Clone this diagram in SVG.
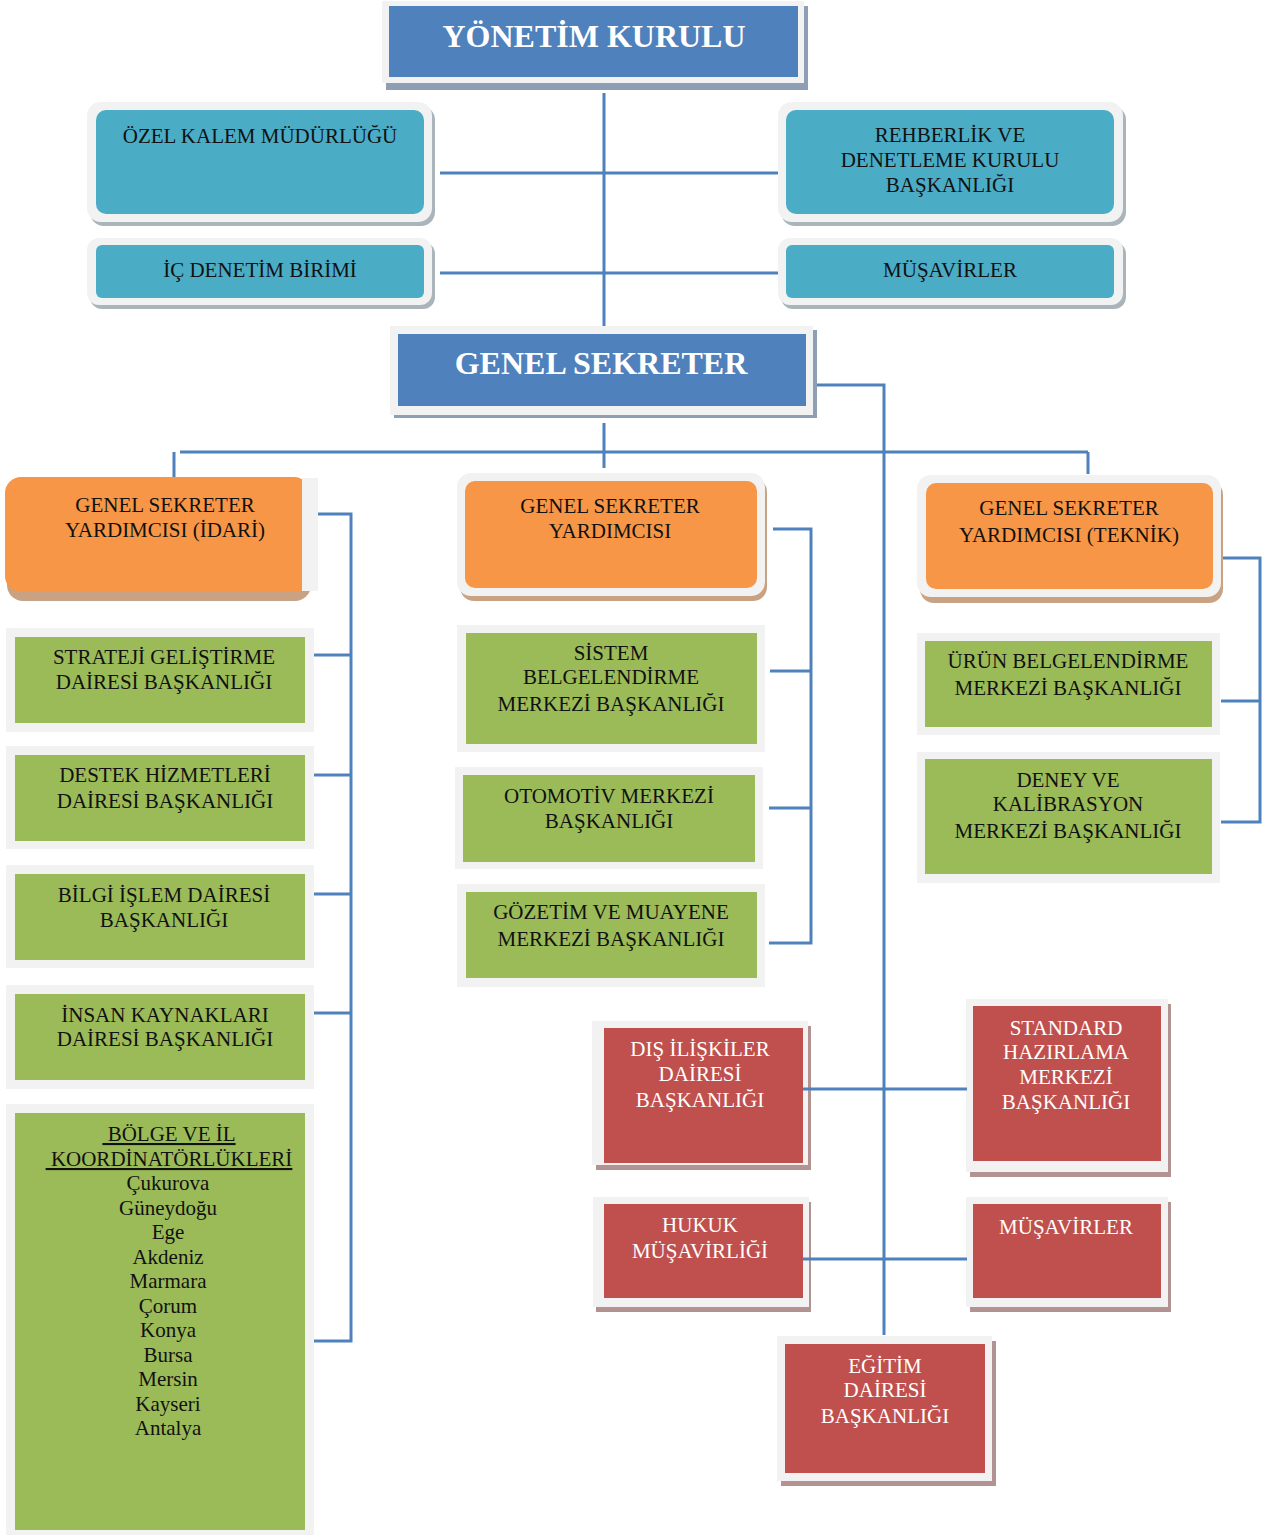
<svg xmlns="http://www.w3.org/2000/svg" width="1267" height="1535" viewBox="0 0 1267 1535">
<style>
.fr{fill:#F2F2F2}
.bl{fill:#4F81BD}
.te{fill:#4BACC6}
.or{fill:#F79646}
.gr{fill:#9BBB59}
.rd{fill:#C0504D}
.sb{fill:#8E9EB4}
.st{fill:#A9B4BB}
.so{fill:#C9A283}
.sr{fill:#B39392}
.c{stroke:#4F81BD;stroke-width:3;fill:none}
text{font-family:"Liberation Serif","Times New Roman",serif;font-size:21px;text-anchor:middle;fill:#111}
.w{fill:#fff}
.h{font-weight:bold;font-size:32px;fill:#fff}
</style>
<rect width="1267" height="1535" fill="#fff"/>
<g id="yonetim-kurulu">
<rect class="sb" x="386" y="6" width="422" height="84"/>
<rect class="fr" x="382" y="1" width="422" height="82"/>
<rect class="bl" x="389" y="6" width="409" height="71"/>
<text class="h" x="594" y="47">YÖNETİM KURULU</text>
</g>
<g id="ozel-kalem">
<rect class="st" x="90" y="106" width="345" height="120" rx="14"/>
<rect class="fr" x="87" y="102" width="345" height="120" rx="14"/>
<rect class="te" x="96" y="110" width="328" height="104" rx="10"/>
<text x="260" y="143">ÖZEL KALEM MÜDÜRLÜĞÜ</text>
</g>
<g id="ic-denetim">
<rect class="st" x="90" y="242" width="345" height="67" rx="12"/>
<rect class="fr" x="87" y="238" width="345" height="67" rx="12"/>
<rect class="te" x="96" y="245" width="328" height="53" rx="6"/>
<text x="260" y="277">İÇ DENETİM BİRİMİ</text>
</g>
<g id="rehberlik">
<rect class="st" x="781" y="106" width="345" height="120" rx="14"/>
<rect class="fr" x="778" y="102" width="345" height="120" rx="14"/>
<rect class="te" x="786" y="110" width="328" height="104" rx="10"/>
<text x="950" y="142">REHBERLİK VE</text>
<text x="950" y="167">DENETLEME KURULU</text>
<text x="950" y="192">BAŞKANLIĞI</text>
</g>
<g id="musavirler-top">
<rect class="st" x="781" y="242" width="345" height="67" rx="12"/>
<rect class="fr" x="778" y="238" width="345" height="67" rx="12"/>
<rect class="te" x="786" y="245" width="328" height="53" rx="6"/>
<text x="950" y="277">MÜŞAVİRLER</text>
</g>
<g id="genel-sekreter">
<rect class="sb" x="394" y="330" width="423" height="88"/>
<rect class="fr" x="390" y="326" width="423" height="89"/>
<rect class="bl" x="398" y="334" width="408" height="72"/>
<text class="h" x="601" y="374">GENEL SEKRETER</text>
</g>
<g id="gsy-idari">
<rect class="so" x="7" y="485" width="304" height="116" rx="16"/>
<rect class="or" x="5" y="477" width="305" height="115" rx="16"/>
<rect class="fr" x="302" y="478" width="16" height="113"/>
<text x="165" y="512">GENEL SEKRETER</text>
<text x="165" y="537">YARDIMCISI (İDARİ)</text>
</g>
<g id="gsy">
<rect class="so" x="460" y="478" width="307" height="123" rx="14"/>
<rect class="fr" x="457" y="473" width="308" height="123" rx="14"/>
<rect class="or" x="465" y="481" width="292" height="107" rx="10"/>
<text x="610" y="513">GENEL SEKRETER</text>
<text x="610" y="538">YARDIMCISI</text>
</g>
<g id="gsy-teknik">
<rect class="so" x="920" y="481" width="303" height="122" rx="14"/>
<rect class="fr" x="917" y="475" width="304" height="122" rx="14"/>
<rect class="or" x="926" y="483" width="287" height="106" rx="10"/>
<text x="1069" y="515">GENEL SEKRETER</text>
<text x="1069" y="542">YARDIMCISI (TEKNİK)</text>
</g>
<g id="strateji">
<rect class="fr" x="6" y="628" width="308" height="104"/>
<rect class="gr" x="15" y="637" width="290" height="86"/>
<text x="164" y="664">STRATEJİ GELİŞTİRME</text>
<text x="164" y="689">DAİRESİ BAŞKANLIĞI</text>
</g>
<g id="destek">
<rect class="fr" x="6" y="746" width="308" height="103"/>
<rect class="gr" x="15" y="755" width="290" height="86"/>
<text x="165" y="782">DESTEK HİZMETLERİ</text>
<text x="165" y="808">DAİRESİ BAŞKANLIĞI</text>
</g>
<g id="bilgi-islem">
<rect class="fr" x="6" y="865" width="308" height="103"/>
<rect class="gr" x="15" y="874" width="290" height="86"/>
<text x="164" y="902">BİLGİ İŞLEM DAİRESİ</text>
<text x="164" y="927">BAŞKANLIĞI</text>
</g>
<g id="insan-kaynaklari">
<rect class="fr" x="6" y="985" width="308" height="104"/>
<rect class="gr" x="15" y="994" width="290" height="86"/>
<text x="165" y="1022">İNSAN KAYNAKLARI</text>
<text x="165" y="1046">DAİRESİ BAŞKANLIĞI</text>
</g>
<g id="bolge">
<rect class="fr" x="6" y="1104" width="308" height="431"/>
<rect class="gr" x="15" y="1113" width="290" height="417"/>
<text x="169" y="1141" text-decoration="underline">&#160;BÖLGE VE İL</text>
<text x="169" y="1166" text-decoration="underline">&#160;KOORDİNATÖRLÜKLERİ</text>
<text x="168" y="1190">Çukurova</text>
<text x="168" y="1215">Güneydoğu</text>
<text x="168" y="1239">Ege</text>
<text x="168" y="1264">Akdeniz</text>
<text x="168" y="1288">Marmara</text>
<text x="168" y="1313">Çorum</text>
<text x="168" y="1337">Konya</text>
<text x="168" y="1362">Bursa</text>
<text x="168" y="1386">Mersin</text>
<text x="168" y="1411">Kayseri</text>
<text x="168" y="1435">Antalya</text>
</g>
<g id="sistem">
<rect class="fr" x="457" y="625" width="308" height="127"/>
<rect class="gr" x="466" y="633" width="291" height="111"/>
<text x="611" y="660">SİSTEM</text>
<text x="611" y="684">BELGELENDİRME</text>
<text x="611" y="711">MERKEZİ BAŞKANLIĞI</text>
</g>
<g id="otomotiv">
<rect class="fr" x="455" y="767" width="308" height="102"/>
<rect class="gr" x="463" y="775" width="292" height="87"/>
<text x="609" y="803">OTOMOTİV MERKEZİ</text>
<text x="609" y="828">BAŞKANLIĞI</text>
</g>
<g id="gozetim">
<rect class="fr" x="457" y="884" width="308" height="103"/>
<rect class="gr" x="466" y="892" width="291" height="86"/>
<text x="611" y="919">GÖZETİM VE MUAYENE</text>
<text x="611" y="946">MERKEZİ BAŞKANLIĞI</text>
</g>
<g id="urun">
<rect class="fr" x="917" y="633" width="303" height="102"/>
<rect class="gr" x="925" y="641" width="287" height="86"/>
<text x="1068" y="668">ÜRÜN BELGELENDİRME</text>
<text x="1068" y="695">MERKEZİ BAŞKANLIĞI</text>
</g>
<g id="deney">
<rect class="fr" x="917" y="752" width="303" height="131"/>
<rect class="gr" x="925" y="759" width="287" height="115"/>
<text x="1068" y="787">DENEY VE</text>
<text x="1068" y="811">KALİBRASYON</text>
<text x="1068" y="838">MERKEZİ BAŞKANLIĞI</text>
</g>
<g id="dis-iliskiler">
<rect class="sr" x="596" y="1026" width="215" height="144"/>
<rect class="fr" x="592" y="1021" width="216" height="144"/>
<rect class="rd" x="604" y="1028" width="199" height="135"/>
<text class="w" x="700" y="1056">DIŞ İLİŞKİLER</text>
<text class="w" x="700" y="1081">DAİRESİ</text>
<text class="w" x="700" y="1107">BAŞKANLIĞI</text>
</g>
<g id="standard">
<rect class="sr" x="970" y="1004" width="201" height="173"/>
<rect class="fr" x="966" y="999" width="202" height="173"/>
<rect class="rd" x="973" y="1006" width="188" height="155"/>
<text class="w" x="1066" y="1035">STANDARD</text>
<text class="w" x="1066" y="1059">HAZIRLAMA</text>
<text class="w" x="1066" y="1084">MERKEZİ</text>
<text class="w" x="1066" y="1109">BAŞKANLIĞI</text>
</g>
<g id="hukuk">
<rect class="sr" x="596" y="1202" width="215" height="110"/>
<rect class="fr" x="593" y="1197" width="216" height="110"/>
<rect class="rd" x="604" y="1204" width="199" height="94"/>
<text class="w" x="700" y="1232">HUKUK</text>
<text class="w" x="700" y="1258">MÜŞAVİRLİĞİ</text>
</g>
<g id="musavirler-red">
<rect class="sr" x="970" y="1202" width="201" height="110"/>
<rect class="fr" x="966" y="1197" width="202" height="110"/>
<rect class="rd" x="973" y="1204" width="188" height="94"/>
<text class="w" x="1066" y="1234">MÜŞAVİRLER</text>
</g>
<g id="egitim">
<rect class="sr" x="781" y="1341" width="215" height="145"/>
<rect class="fr" x="777" y="1336" width="215" height="145"/>
<rect class="rd" x="785" y="1344" width="200" height="129"/>
<text class="w" x="885" y="1373">EĞİTİM</text>
<text class="w" x="885" y="1397">DAİRESİ</text>
<text class="w" x="885" y="1423">BAŞKANLIĞI</text>
</g>
<g id="connectors">
<path class="c" d="M604 93V326"/>
<path class="c" d="M440 173H778M440 273H778"/>
<path class="c" d="M604 423V468M180 452H1088M174 452V477M1088 452V474"/>
<path class="c" d="M817 385H884V1335"/>
<path class="c" d="M318 514H351V1341H314M314 655H351M314 775H351M314 894H351M314 1013H351"/>
<path class="c" d="M773 529H811V943H769M770 671H811M769 808H811"/>
<path class="c" d="M1223 558H1260V822H1221M1221 701H1260"/>
<path class="c" d="M803 1089H967M803 1259H967"/>
</g>
</svg>
